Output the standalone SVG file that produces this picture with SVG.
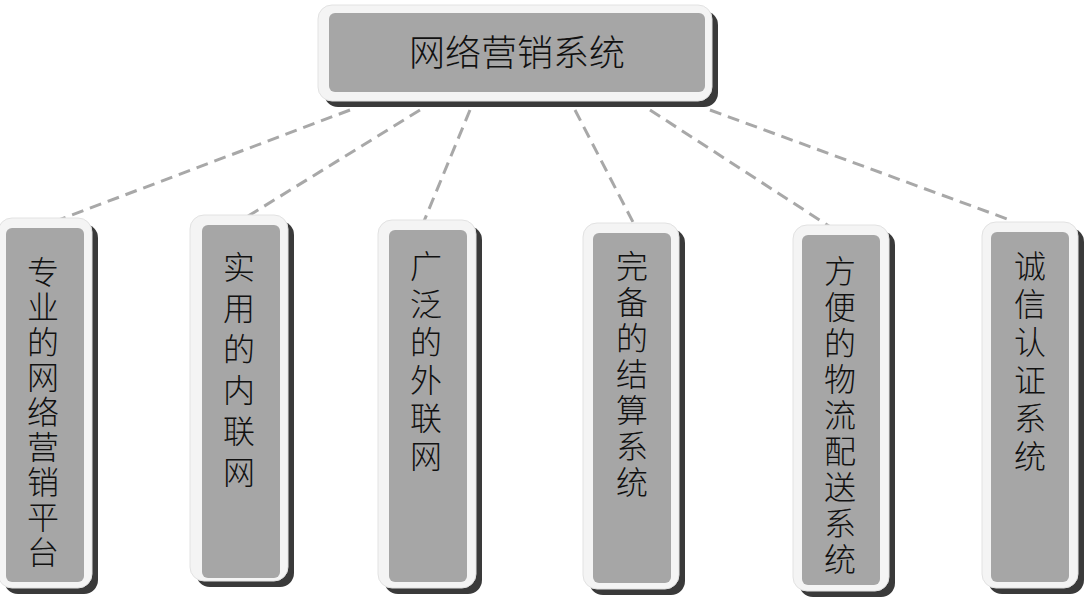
<svg xmlns="http://www.w3.org/2000/svg" width="1084" height="602" viewBox="0 0 1084 602">
<style>
.sh{fill:#3a3a3a}
.out{fill:#f4f4f4;stroke:#e2e2e2;stroke-width:1}
.in{fill:#a6a6a6}
.t{font-family:"Noto Sans CJK SC","Liberation Sans",sans-serif;font-size:32px;font-weight:300;fill:#111;text-anchor:middle}
.v{font-family:"Noto Sans CJK SC","Liberation Sans",sans-serif;font-size:32px;font-weight:300;fill:#111;writing-mode:vertical-rl;text-orientation:upright}
.c{stroke:#a8a8a8;stroke-width:3;stroke-dasharray:12,7;fill:none}
</style>
<rect width="1084" height="602" fill="#fff"/>
<g id="connectors">
<line class="c" x1="350" y1="110" x2="48" y2="224"/>
<line class="c" x1="420" y1="110" x2="245" y2="218"/>
<line class="c" x1="470" y1="110" x2="422" y2="226"/>
<line class="c" x1="575" y1="110" x2="635" y2="226"/>
<line class="c" x1="650" y1="110" x2="835" y2="230"/>
<line class="c" x1="710" y1="110" x2="1010" y2="220"/>
</g>
<g id="root">
<rect class="sh" x="324" y="11" width="394" height="96" rx="14"/>
<rect class="out" x="318" y="5" width="394" height="96" rx="14"/>
<rect class="in" x="329" y="13" width="376" height="79" rx="6"/>
<text class="t" x="517" y="66" style="font-size:36px">网络营销系统</text>
</g>
<g id="n1">
<rect class="sh" x="4" y="224" width="94" height="370" rx="14"/>
<rect class="out" x="-2" y="218" width="94" height="370" rx="14"/>
<rect class="in" x="6" y="228" width="78" height="354" rx="6"/>
<text class="v" x="43" y="256" letter-spacing="3">专业的网络营销平台</text>
</g>
<g id="n2">
<rect class="sh" x="196" y="221" width="98" height="366" rx="14"/>
<rect class="out" x="190" y="215" width="98" height="366" rx="14"/>
<rect class="in" x="202" y="225" width="78" height="353" rx="6"/>
<text class="v" x="239" y="251" letter-spacing="9">实用的内联网</text>
</g>
<g id="n3">
<rect class="sh" x="384" y="226" width="98" height="368" rx="14"/>
<rect class="out" x="378" y="220" width="98" height="368" rx="14"/>
<rect class="in" x="389" y="230" width="78" height="352" rx="6"/>
<text class="v" x="426" y="250" letter-spacing="6">广泛的外联网</text>
</g>
<g id="n4">
<rect class="sh" x="589" y="229" width="96" height="366" rx="14"/>
<rect class="out" x="583" y="223" width="96" height="366" rx="14"/>
<rect class="in" x="593" y="233" width="78" height="350" rx="6"/>
<text class="v" x="632" y="250" letter-spacing="4">完备的结算系统</text>
</g>
<g id="n5">
<rect class="sh" x="799" y="231" width="96" height="366" rx="14"/>
<rect class="out" x="793" y="225" width="96" height="366" rx="14"/>
<rect class="in" x="802" y="235" width="78" height="350" rx="6"/>
<text class="v" x="840" y="255" letter-spacing="4">方便的物流配送系统</text>
</g>
<g id="n6">
<rect class="sh" x="988" y="228" width="96" height="366" rx="14"/>
<rect class="out" x="982" y="222" width="96" height="366" rx="14"/>
<rect class="in" x="991" y="232" width="78" height="350" rx="6"/>
<text class="v" x="1030" y="250" letter-spacing="6">诚信认证系统</text>
</g>
</svg>
